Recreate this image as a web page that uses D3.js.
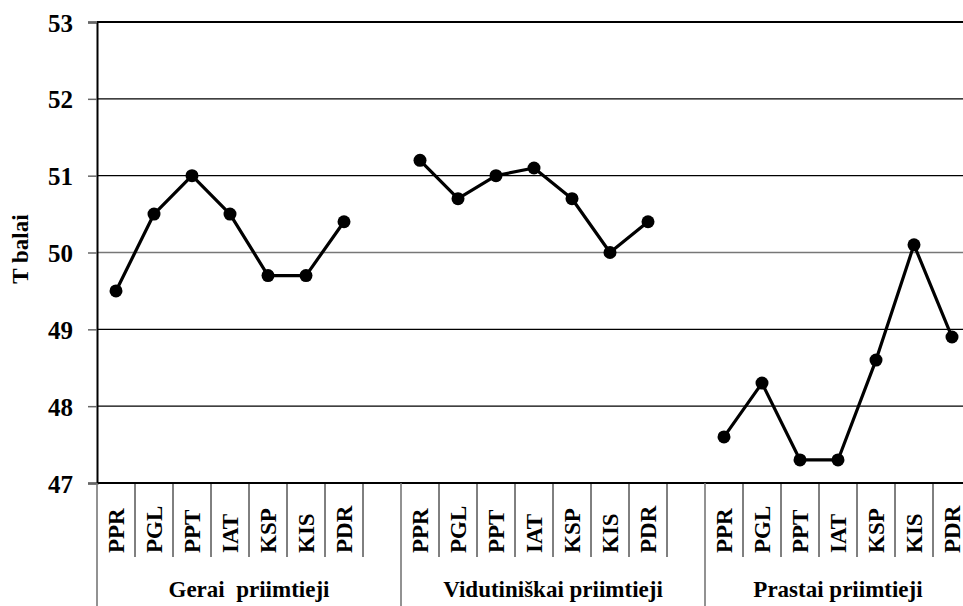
<!DOCTYPE html>
<html>
<head>
<meta charset="utf-8">
<script src="https://cdn.jsdelivr.net/npm/d3@7/dist/d3.min.js"></script>
<style>
html,body{margin:0;padding:0;background:#fff;overflow:hidden;}
text{font-family:"Liberation Serif","Times New Roman",serif;font-weight:bold;fill:#000;}
</style>
</head>
<body>
<svg id="chart" width="963" height="606"></svg>
<script>
const groups = ["Gerai  priimtieji", "Vidutiniškai priimtieji", "Prastai priimtieji"];
const categories = ["PPR", "PGL", "PPT", "IAT", "KSP", "KIS", "PDR"];
const geraiValues = [49.5, 50.5, 51.0, 50.5, 49.7, 49.7, 50.4];
const vidutiniskaiValues = [51.2, 50.7, 51.0, 51.1, 50.7, 50.0, 50.4];
const prastaiValues = [47.6, 48.3, 47.3, 47.3, 48.6, 50.1, 48.9];
const yTicks = [47, 48, 49, 50, 51, 52, 53];
const yLabel = "T balai";

const seriesValues = [geraiValues, vidutiniskaiValues, prastaiValues];
const slots = [];
groups.forEach((g, gi) => {
  categories.forEach((c, ci) => slots.push({key: gi + "-" + ci, cat: c, group: gi, value: seriesValues[gi][ci]}));
  if (gi < groups.length - 1) slots.push({key: gi + "-gap", cat: "", group: gi, value: null});
});

const svg = d3.select("#chart");
const mLeft = 97, mTop = 22, mBottom = 483, slotW = 38;
const mRight = mLeft + slots.length * slotW;

const x = d3.scaleBand().domain(slots.map(s => s.key)).range([mLeft, mRight]).padding(0);
const y = d3.scaleLinear().domain([47, 53]).range([mBottom, mTop]);

svg.append("g").selectAll("line").data(yTicks.slice(1)).join("line")
  .attr("x1", mLeft).attr("x2", mRight)
  .attr("y1", d => y(d)).attr("y2", d => y(d))
  .attr("stroke", d => d === 50 ? "#777" : "#000")
  .attr("stroke-width", d => d === 53 ? 2 : (d === 50 ? 1.6 : 1.2));

const yAxis = d3.axisLeft(y).tickValues(yTicks).tickSize(9).tickPadding(14).tickFormat(d3.format("d"));
const ya = svg.append("g").attr("transform", `translate(${mLeft},0)`).call(yAxis);
ya.attr("font-family", null).attr("font-size", null);
ya.select(".domain").attr("stroke", "#000").attr("stroke-width", 2);
ya.selectAll(".tick line").attr("stroke", "#666").attr("stroke-width", 1.5);
ya.selectAll(".tick text").attr("x", -24).attr("dy", "0.36em").style("font-size", "25px").attr("fill", "#000");

svg.append("line").attr("x1", mLeft).attr("x2", mRight).attr("y1", mBottom).attr("y2", mBottom)
  .attr("stroke", "#000").attr("stroke-width", 2.2);

const sepG = svg.append("g");
slots.forEach((s, i) => {
  const xs = x(s.key);
  const isGroupStart = i === 0 || slots[i - 1].group !== s.group;
  sepG.append("line").attr("x1", xs).attr("x2", xs).attr("y1", mBottom)
    .attr("y2", isGroupStart ? 606 : 557)
    .attr("stroke", isGroupStart ? "#777" : "#000").attr("stroke-width", isGroupStart ? 1.6 : 1);
});

svg.append("g").selectAll("text").data(slots.filter(s => s.cat)).join("text")
  .attr("transform", d => `translate(${x(d.key) + x.bandwidth() / 2 + 7.5},553) rotate(-90)`)
  .attr("text-anchor", "start")
  .style("font-size", "23px")
  .text(d => d.cat);

groups.forEach((g, gi) => {
  const gs = slots.filter(s => s.group === gi);
  const x0 = x(gs[0].key), x1 = x(gs[gs.length - 1].key) + x.bandwidth();
  svg.append("text").attr("x", (x0 + x1) / 2).attr("y", 597)
    .attr("text-anchor", "middle").style("font-size", "23px").style("white-space", "pre").text(g);
});

const line = d3.line().x(d => x(d.key) + x.bandwidth() / 2).y(d => y(d.value));
groups.forEach((g, gi) => {
  const pts = slots.filter(s => s.group === gi && s.value !== null);
  svg.append("path").datum(pts).attr("d", line)
    .attr("fill", "none").attr("stroke", "#000").attr("stroke-width", 3.2).attr("stroke-linejoin", "round");
  svg.append("g").selectAll("circle").data(pts).join("circle")
    .attr("cx", d => x(d.key) + x.bandwidth() / 2).attr("cy", d => y(d.value))
    .attr("r", 6.5).attr("fill", "#000");
});

svg.append("text").attr("transform", `translate(28,249) rotate(-90)`)
  .attr("text-anchor", "middle").style("font-size", "23px").text(yLabel);
</script>
</body>
</html>
